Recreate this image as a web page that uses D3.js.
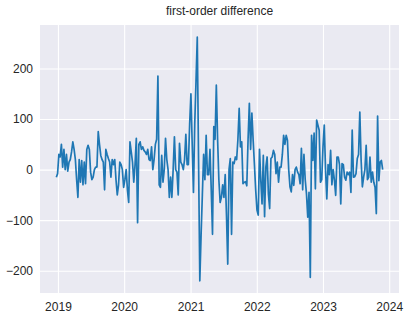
<!DOCTYPE html>
<html>
<head>
<meta charset="utf-8">
<script src="https://cdn.jsdelivr.net/npm/d3@7"></script>
<style>
  body { margin: 0; background: #fff; }
  svg text { font-family: "Liberation Sans", Arial, sans-serif; fill: #262626; }
</style>
</head>
<body>
<div id="chart"></div>
<script>
const chartTitle = 'first-order difference';

// weekly observations, first week starting here
const startDate = '2018-12-23';

// first-order difference, one value per week
const diffValues = [
  -15, -8, 30, 25, 50, 5, 40, 0, 30, -3, 15, 20, 35, 55, 40, 20, -20, -55, 20, -25,
  18, -30, 15, -28, 40, 48, 40, -5, -20, -15, 0, 5, 5, 75, 50, 28, 20, 15, -40, 40,
  30, 22, 15, -15, 20, 10, 20, -20, -50, -30, 15, 10, 0, -35, -20, 0, -40, -65, 55, 35,
  15, -25, 10, 62, -105, 50, 55, 40, 45, 38, 35, 30, 40, 20, 18, 45, 0, 20, 50, 60,
  185, -30, -35, 28, -25, 0, 62, 20, 0, -55, -15, -55, 0, 65, 0, -5, -50, 52, 15, 10,
  0, 20, 70, 10, 10, 90, 150, 50, -45, 90, 175, 262, 21, -220, -130, -50, 30, -20, 68, -10,
  -10, 40, -40, -128, 85, 60, 167, 60, -20, -65, -55, -30, -55, -10, -90, -187, 0, 22, -128, 15,
  12, 25, 20, 60, 121, 45, 55, -28, -25, -24, -32, 60, 131, 40, 112, 58, 10, -40, -80, -90,
  40, -20, -68, 28, -93, 5, 25, -48, -77, 22, 25, 38, 30, -8, 15, -25, 5, 5, 30, 68,
  50, 68, 58, 0, -34, -44, -10, -31, 0, 5, -5, -10, -28, 42, -40, 30, -20, -48, -94, -45,
  -213, 68, 18, 72, -38, 98, 88, 78, -25, -20, 45, 88, 0, -58, 10, -10, 38, -30, 0, -21,
  -51, 25, 25, 10, -68, 12, 10, -15, -21, -5, -10, -5, -45, 78, -15, -14, -8, 22, 30, 114,
  20, -34, -15, 0, 48, -20, -15, 25, -25, -5, -25, -35, -87, 106, -22, 15, 18, 0
];

const yTickValues = [-200, -100, 0, 100, 200];
const xTickYears = [2019, 2020, 2021, 2022, 2023, 2024];

const width = 407;
const height = 319;
const margin = { top: 25, right: 8, bottom: 26, left: 40 };
const plotW = width - margin.left - margin.right;
const plotH = height - margin.top - margin.bottom;

const start = d3.timeParse('%Y-%m-%d')(startDate);
const data = diffValues.map((v, i) => ({ date: d3.timeWeek.offset(start, i), value: v }));

// matplotlib-like 5% margins around the data
function padded(extent, frac) {
  const span = extent[1] - extent[0];
  return [extent[0] - span * frac, extent[1] + span * frac];
}

const xExt = d3.extent(data, d => d.date).map(d => +d);
const xscale = d3.scaleTime()
  .domain(padded(xExt, 0.05).map(t => new Date(t)))
  .range([0, plotW]);
const yscale = d3.scaleLinear()
  .domain(padded(d3.extent(data, d => d.value), 0.05))
  .range([plotH, 0]);

const svg = d3.select('#chart').append('svg')
  .attr('width', width)
  .attr('height', height);

const g = svg.append('g')
  .attr('transform', `translate(${margin.left}, ${margin.top})`);

g.append('rect')
  .attr('width', plotW)
  .attr('height', plotH)
  .attr('fill', '#eaeaf2');

// Axes double as the white grid
const xaxis = d3.axisBottom(xscale)
  .tickValues(xTickYears.map(y => new Date(y, 0, 1)))
  .tickFormat(d3.timeFormat('%Y'))
  .tickSize(-plotH)
  .tickPadding(9);
const yaxis = d3.axisLeft(yscale)
  .tickValues(yTickValues)
  .tickFormat(d => d < 0 ? '\u2212' + Math.abs(d) : d)
  .tickSize(-plotW)
  .tickPadding(7);

g.append('g')
  .attr('transform', `translate(0, ${plotH})`)
  .call(xaxis)
  .call(a => a.select('.domain').remove());
g.append('g')
  .call(yaxis)
  .call(a => a.select('.domain').remove());

g.selectAll('.tick line')
  .attr('stroke', '#fff')
  .attr('stroke-width', 1.1);
g.selectAll('.tick text')
  .attr('font-size', 12)
  .attr('fill', '#262626');

const line = d3.line()
  .x(d => xscale(d.date))
  .y(d => yscale(d.value));

g.append('path')
  .datum(data)
  .attr('fill', 'none')
  .attr('stroke', '#1f77b4')
  .attr('stroke-width', 1.7)
  .attr('stroke-linejoin', 'round')
  .attr('d', line);

svg.append('text')
  .attr('x', margin.left + plotW / 2)
  .attr('y', 15)
  .attr('text-anchor', 'middle')
  .attr('font-size', 12)
  .text(chartTitle);
</script>
</body>
</html>
